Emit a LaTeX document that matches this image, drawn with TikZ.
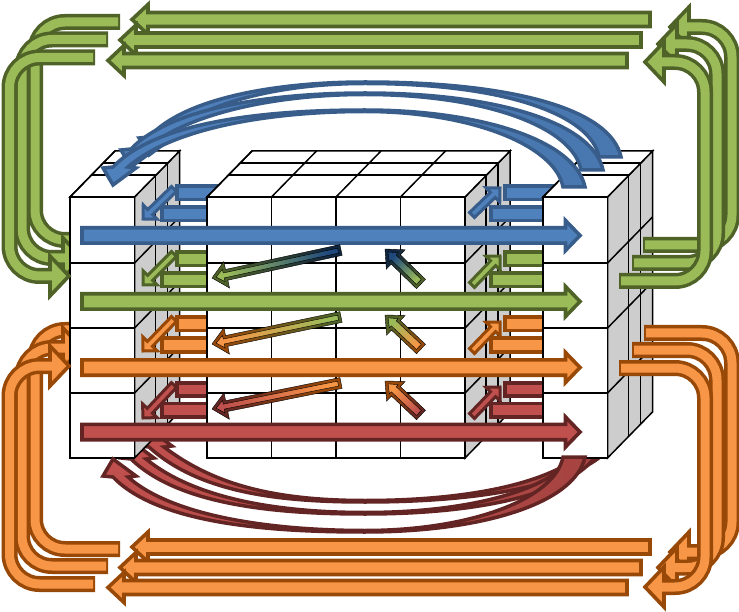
\documentclass[tikz,border=0pt]{standalone}
\usetikzlibrary{calc}
\definecolor{fillGreen}{RGB}{155,187,89}
\definecolor{lineGreen}{RGB}{79,98,40}
\definecolor{fillBlue}{RGB}{79,129,189}
\definecolor{lineBlue}{RGB}{56,93,138}
\definecolor{fillOrange}{RGB}{247,150,70}
\definecolor{lineOrange}{RGB}{152,72,7}
\definecolor{fillRed}{RGB}{192,80,77}
\definecolor{lineRed}{RGB}{99,37,35}
\definecolor{fillNavy}{RGB}{31,73,125}
\definecolor{lineNavy}{RGB}{16,37,63}
\definecolor{sideColor}{RGB}{205,205,205}
\tikzset{gridline/.style={draw=black, line width=1.5pt}}
\tikzset{sideface/.style={gridline, fill=sideColor}}
\tikzset{frontface/.style={gridline, fill=white}}
\tikzset{blockshape/.style={draw=line#1, fill=fill#1, line width=3.6pt}}
\tikzset{thinshape/.style={blockshape=#1, line width=3pt}}

% one stack of cells: left x, number of columns
\newcommand{\cellblock}[2]{
  \pgfmathsetmacro{\blockright}{#1+64.5*#2}
  \filldraw[sideface] (\blockright,197) -- (\blockright+45,151) -- (\blockright+45,412) -- (\blockright,458) -- cycle;
  \filldraw[frontface] (#1,197) -- (#1+45,151) -- (\blockright+45,151) -- (\blockright,197) -- cycle;
  \foreach \dx/\dy in {21/22, 33/34} {
    \draw[gridline] (#1+\dx,197-\dy) -- (\blockright+\dx,197-\dy);
  }
  \foreach \dx/\dy in {21/22, 33/34} {
    \draw[gridline] (\blockright+\dx,197-\dy) -- (\blockright+\dx,458-\dy);
  }
  \foreach \col in {1,...,#2} {
    \draw[gridline] (#1+64.5*\col-64.5,197) -- ++(45,-46);
  }
  \foreach \rowy in {263,328,393} {
    \draw[gridline] (\blockright,\rowy) -- ++(45,-46);
  }
  \filldraw[frontface] (#1,197) rectangle (\blockright,458);
  \foreach \rowy in {263,328,393} {
    \draw[gridline] (#1,\rowy) -- (\blockright,\rowy);
  }
  \foreach \col in {1,...,#2} {
    \draw[gridline] (#1+64.5*\col,197) -- (#1+64.5*\col,458);
  }
}

% straight arrow: style, tail, tip, half body, half head, head length
\newcommand{\blockarrow}[6]{
  \coordinate (arrowtail) at (#2);
  \coordinate (arrowtip) at (#3);
  \coordinate (arrowbase) at ($(arrowtip)!#6pt!(arrowtail)$);
  \draw[#1] ($(arrowtail)!#4pt!90:(arrowtip)$) -- ($(arrowbase)!#4pt!90:(arrowtip)$)
    -- ($(arrowbase)!#5pt!90:(arrowtip)$) -- (arrowtip) -- ($(arrowbase)!#5pt!-90:(arrowtip)$)
    -- ($(arrowbase)!#4pt!-90:(arrowtip)$) -- ($(arrowtail)!#4pt!-90:(arrowtip)$) -- cycle;
}

% two-coloured arrow: head colour, tail colour, tail, tip, half body, angle
\newcommand{\shadearrow}[6]{
  \pgfmathsetmacro{\innerbody}{#5-3}
  \blockarrow{shade, top color=line#1, bottom color=line#2, shading angle=#6}{#3}{#4}{#5}{13.5}{15}
  \coordinate (innertail) at ($(arrowtail)!3pt!(arrowtip)$);
  \coordinate (innertip) at ($(arrowtip)!4.2pt!(arrowtail)$);
  \blockarrow{shade, top color=fill#1, bottom color=fill#2, shading angle=#6}{innertail}{innertip}{\innerbody}{6.3}{7.8}
}

% bent arrow: colour, tail, corner, corner, base of head, tip
\newcommand{\bentarrow}[6]{
  \coordinate (arrowbase) at (#5);
  \coordinate (arrowtip) at (#6);
  \filldraw[blockshape=#1] ($(arrowbase)!20pt!90:(arrowtip)$) -- (arrowtip) -- ($(arrowbase)!20pt!-90:(arrowtip)$) -- cycle;
  \draw[draw=line#1, line width=16pt, rounded corners=30pt, shorten <=-2pt] (#2) -- (#3) -- (#4) -- (#5);
  \draw[draw=fill#1, line width=9pt, rounded corners=30pt, shorten >=-3pt] (#2) -- (#3) -- (#4) -- (#5);
}

% tapered arc: colour, tail x, tail y, peak y, head x, head y, share of the head shift taken by the curve
\newcommand{\arcarrow}[7]{
  \draw[draw=line#1, left color=fill#1, right color=fill#1!72!line#1, line width=3.5pt]
    ({563+#2},{187+#3}) -- ({585+#2},{187+#3})
    .. controls ({575+#2},{140+#3}) and ({480+#2},{110+#4}) .. (365,{110+#4})
    .. controls (280,{110+#4}) and ({160+#7*#5},{118+#7*#6}) .. ({113+#5},{167+#6})
    -- ({103+#5},{168+#6}) -- ({113+#5},{185+#6}) -- ({136+#5},{168+#6}) -- ({128+#5},{167+#6})
    .. controls ({172+#7*#5},{128+#7*#6}) and (270,{111.5+#4}) .. (365,{111.5+#4})
    .. controls ({470+#2},{111.5+#4}) and ({555+#2},{145+#3}) .. cycle;
}

\begin{document}
\begin{tikzpicture}[x=1pt, y=-1pt]
\useasboundingbox (0,0) rectangle (739,612);

% Arrows behind the left stack
\bentarrow{Green}{118,22}{35,22}{35,240}{76,240}{95,240}
\bentarrow{Green}{106,39.5}{22,39.5}{22,258}{63,258}{82,258}
\bentarrow{Orange}{118,549}{35,549}{35,330}{76,330}{95,330}
\bentarrow{Orange}{106,566}{22,566}{22,348}{63,348}{82,348}
\begin{scope}[shift={(0,644)}, y=1pt]
\arcarrow{Red}{36}{30}{32}{36}{30}{1.1}
\arcarrow{Red}{18}{17}{20}{18}{18}{1.1}
\end{scope}

% Stacks and the bars between them
\cellblock{70}{1}
\foreach \name/\upper/\lower in {Blue/193/214, Green/259/280, Orange/324/345, Red/389.5/410} {
  \draw[blockshape=\name] (177,\upper-6.7) rectangle (260,\upper+6.7);
  \draw[blockshape=\name] (162,\lower-6.7) rectangle (260,\lower+6.7);
}
\cellblock{207}{4}
\foreach \name/\upper/\lower in {Blue/193/214, Green/259/280, Orange/324/345, Red/389.5/410} {
  \draw[blockshape=\name] (505,\upper-6.7) rectangle (570,\upper+6.7);
  \draw[blockshape=\name] (491,\lower-6.7) rectangle (570,\lower+6.7);
}
\cellblock{543}{1}

% Long arrows across the stacks
\blockarrow{blockshape=Blue}{82,235.5}{580,235.5}{7.7}{15}{14.5}
\blockarrow{blockshape=Green}{82,301.5}{580,301.5}{7.7}{15}{14.5}
\blockarrow{blockshape=Orange}{82,367.5}{580,367.5}{7.7}{15}{14.5}
\blockarrow{blockshape=Red}{82,432}{580,432}{7.7}{15}{14.5}

% Short diagonal arrows
\foreach \name/\ya/\yb/\yc/\yd in {Blue/189/219/215/188, Green/254/285/285/256, Orange/319/351/351/322, Red/385/418/416/387} {
  \blockarrow{thinshape=\name}{174,\ya}{143,\yb}{3.5}{10}{10}
  \blockarrow{thinshape=\name}{472,\yc}{500,\yd}{3.5}{10}{10}
}

% Two-coloured arrows in the middle
\shadearrow{Green}{Navy}{341,250}{212,278}{5.5}{103}
\shadearrow{Orange}{Green}{341,317}{212,344}{5.5}{103}
\shadearrow{Red}{Orange}{341,383}{212,409}{5.5}{103}
\shadearrow{Navy}{Green}{421,284}{385,249}{6.5}{46}
\shadearrow{Green}{Orange}{421,349}{385,315}{6.5}{46}
\shadearrow{Orange}{Red}{421,415}{385,381}{6.5}{46}

% Bent arrows
\bentarrow{Green}{93,57.5}{9.5,57.5}{9.5,276}{50,276}{69,276}
\bentarrow{Orange}{93,584}{9.5,584}{9.5,366}{50,366}{69,366}
\bentarrow{Green}{645,245}{732,245}{732,27}{689,27}{670,27}
\bentarrow{Green}{634,263}{717,263}{717,44}{677,44}{658,44}
\bentarrow{Green}{621,281}{705,281}{705,62}{664,62}{645,62}
\bentarrow{Orange}{646,333}{732,333}{732,552}{689,552}{670,552}
\bentarrow{Orange}{634,350}{717,350}{717,567.5}{677,567.5}{658,567.5}
\bentarrow{Orange}{621,368}{705,368}{705,587}{664,587}{645,587}

% Arcs over and under the stacks
\arcarrow{Blue}{36}{-30}{-28}{36}{-30}{.7}
\arcarrow{Blue}{18}{-17}{-17}{18}{-18}{.7}
\arcarrow{Blue}{0}{0}{0}{0}{0}{.7}
\begin{scope}[shift={(0,644)}, y=1pt]
\arcarrow{Red}{0}{0}{2}{0}{0}{1}
\end{scope}

% Straight arrows along the top and bottom
\blockarrow{blockshape=Green}{650,19.5}{132,19.5}{7}{15}{16}
\blockarrow{blockshape=Green}{641,40}{120,40}{7}{15}{16}
\blockarrow{blockshape=Green}{627,60.5}{108,60.5}{7}{15}{16}
\blockarrow{blockshape=Orange}{650,547}{132,547}{7}{15}{16}
\blockarrow{blockshape=Orange}{641,567.5}{120,567.5}{7}{15}{16}
\blockarrow{blockshape=Orange}{627,587.5}{108,587.5}{7}{15}{16}

\end{tikzpicture}
\end{document}
